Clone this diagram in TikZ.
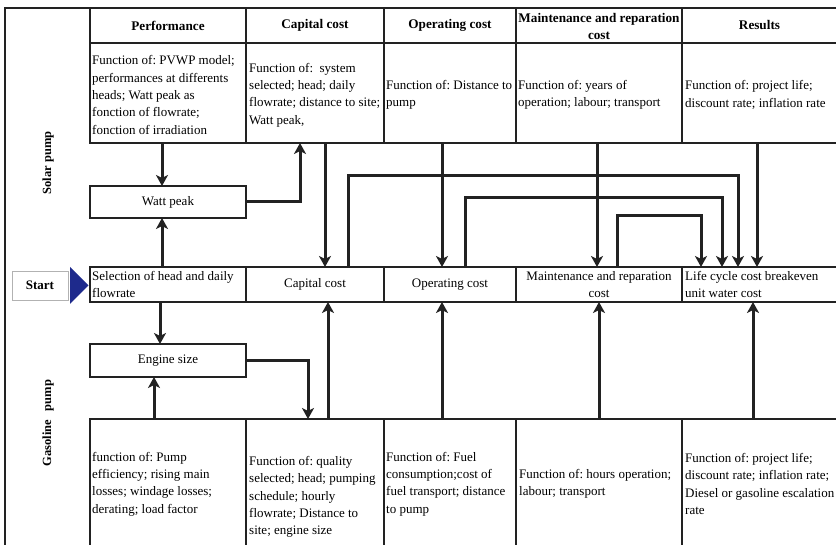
\documentclass[tikz,border=0pt]{standalone}
\usepackage{fontspec}
\setmainfont{Liberation Serif}
\usetikzlibrary{arrows.meta,calc}
\definecolor{ink}{HTML}{222222}
\definecolor{navy}{HTML}{1E2A8C}
\frenchspacing
\newcommand{\mkcell}[5]{\node[cellbox, minimum width={(#4)-(#2)}, minimum height={(#5)-(#3)}] (#1) at ({((#2)+(#4))/2},{((#3)+(#5))/2}) {};}
\tikzset{
  cellbox/.style={draw=ink, line width=2.3pt, rectangle, inner sep=0pt, outer sep=0pt},
  txt/.style={font=\fontsize{13}{17.3}\selectfont, align=left, inner sep=0pt, text=black},
  ctxt/.style={font=\fontsize{13}{17}\selectfont, align=center, inner sep=0pt, text=black},
  hdr/.style={font=\bfseries\fontsize{13.2}{16.5}\selectfont, align=center, inner sep=0pt, text=black},
  arr/.style={draw=ink, line width=3pt, -{Stealth[length=11pt,width=12pt,inset=3pt]}},
  startbox/.style={draw=gray!60, line width=0.9pt, fill=white, minimum width=56pt, minimum height=29pt, inner sep=0pt, font=\bfseries\fontsize{13}{14}\selectfont},
  sidelbl/.style={rotate=90, font=\bfseries\fontsize{12.5}{14}\selectfont}
}
\begin{document}
\begin{tikzpicture}[x=1pt, y=-1pt]
\useasboundingbox (0,0) rectangle (836,545);
\clip (0,0) rectangle (836,545);
\fill[white] (0,0) rectangle (836,545);
% header row
\mkcell{hPerf}{90}{8}{246}{43}
\mkcell{hCap}{246}{8}{384}{43}
\mkcell{hOp}{384}{8}{516}{43}
\mkcell{hMain}{516}{8}{682}{43}
\mkcell{hRes}{682}{8}{845}{43}
% solar body
\mkcell{sPerf}{90}{43}{246}{143}
\mkcell{sCap}{246}{43}{384}{143}
\mkcell{sOp}{384}{43}{516}{143}
\mkcell{sMain}{516}{43}{682}{143}
\mkcell{sRes}{682}{43}{845}{143}
% watt peak
\mkcell{watt}{90}{186}{246}{218}
% middle row
\mkcell{sel}{90}{267}{246}{302}
\mkcell{mCap}{246}{267}{384}{302}
\mkcell{mOp}{384}{267}{516}{302}
\mkcell{mMain}{516}{267}{682}{302}
\mkcell{mRes}{682}{267}{845}{302}
% engine size
\mkcell{eng}{90}{344}{246}{377}
% gasoline body
\mkcell{gPerf}{90}{419}{246}{560}
\mkcell{gCap}{246}{419}{384}{560}
\mkcell{gOp}{384}{419}{516}{560}
\mkcell{gMain}{516}{419}{682}{560}
\mkcell{gRes}{682}{419}{845}{560}
% outer frame
\draw[draw=ink, line width=2.3pt] (5,560) -- (5,8) -- (hPerf.north west);

% header texts
\node[hdr] (thPerf) at (hPerf.center) {Performance};
\node[hdr] (thCap) at (hCap.center) {Capital cost};
\node[hdr] (thOp) at (hOp.center) {Operating cost};
\node[hdr] (thMain) at ($(hMain.center)+(0,1)$) {Maintenance and reparation\\cost};
\node[hdr] (thRes) at ($(hRes.center)+(-4,0)$) {Results};

% solar body texts
\node[txt, anchor=west] (tsPerf) at ($(sPerf.west)+(2,2)$) {Function of: PVWP model;\\performances at differents\\heads; Watt peak as\\fonction of flowrate;\\fonction of irradiation};
\node[txt, anchor=west] (tsCap) at ($(sCap.west)+(3,2)$) {Function of:~~system\\selected; head; daily\\flowrate; distance to site;\\Watt peak,};
\node[txt, anchor=west] (tsOp) at ($(sOp.west)+(2,2)$) {Function of: Distance to\\pump};
\node[txt, anchor=west] (tsMain) at ($(sMain.west)+(2,2)$) {Function of: years of\\operation; labour; transport};
\node[txt, anchor=west] (tsRes) at ($(sRes.west)+(3,2)$) {Function of: project life;\\discount rate; inflation rate};

\node[ctxt] (twatt) at (watt.center) {Watt peak};
\node[ctxt] (teng) at (eng.center) {Engine size};

% middle texts
\node[txt, anchor=west] (tsel) at ($(sel.west)+(2,0)$) {Selection of head and daily\\flowrate};
\node[ctxt] (tmCap) at (mCap.center) {Capital cost};
\node[ctxt] (tmOp) at (mOp.center) {Operating cost};
\node[ctxt] (tmMain) at (mMain.center) {Maintenance and reparation\\cost};
\node[txt, anchor=west] (tmRes) at ($(mRes.west)+(3,0)$) {Life cycle cost breakeven\\unit water cost};

% gasoline texts
\node[txt, anchor=west] (tgPerf) at ($(gPerf.west)+(2,-5.5)$) {function of: Pump\\efficiency; rising main\\losses; windage losses;\\derating; load factor};
\node[txt, anchor=west] (tgCap) at ($(gCap.west)+(3,7.5)$) {Function of: quality\\selected; head; pumping\\schedule; hourly\\flowrate; Distance to\\site; engine size};
\node[txt, anchor=west] (tgOp) at ($(gOp.west)+(2,-5.5)$) {Function of: Fuel\\consumption;cost of\\fuel transport; distance\\to pump};
\node[txt, anchor=west] (tgMain) at ($(gMain.west)+(3,-5.5)$) {Function of: hours operation;\\labour; transport};
\node[txt, anchor=west] (tgRes) at ($(gRes.west)+(3,-5.5)$) {Function of: project life;\\discount rate; inflation rate;\\Diesel or gasoline escalation\\rate};

% side labels and start
\node[sidelbl] (solar) at (48,163) {Solar pump};
\node[sidelbl] (gas) at (48,423) {Gasoline\hspace{0.7em}pump};
\node[startbox] (start) at (40,285.5) {Start};
\fill[navy] (70,267) -- (88.5,285.5) -- (70,304) -- cycle;

% solar arrows
\draw[arr] ([xshift=-6pt]sPerf.south) -- ([xshift=-6pt]watt.north);
\draw[arr] ([xshift=-6pt]sel.north) -- ([xshift=-6pt]watt.south);
\draw[arr] (watt.east) -| ([xshift=-15pt]sCap.south);
\draw[arr] ([xshift=10pt]sCap.south) -- ([xshift=10pt]mCap.north);
\draw[arr] ([xshift=33pt]mCap.north) -- ++(0,-91) -| ([xshift=-25.5pt]mRes.north);
\draw[arr] ([xshift=-8pt]sOp.south) -- ([xshift=-8pt]mOp.north);
\draw[arr] ([xshift=15pt]mOp.north) -- ++(0,-69) -| ([xshift=-41.5pt]mRes.north);
\draw[arr] ([xshift=-2pt]sMain.south) -- ([xshift=-2pt]mMain.north);
\draw[arr] ([xshift=18pt]mMain.north) -- ++(0,-51) -| ([xshift=-62.5pt]mRes.north);
\draw[arr] ([xshift=-6.5pt]sRes.south) -- ([xshift=-6.5pt]mRes.north);

% gasoline arrows
\draw[arr] ([xshift=-8pt]sel.south) -- ([xshift=-8pt]eng.north);
\draw[arr] ([xshift=-14pt]gPerf.north) -- ([xshift=-14pt]eng.south);
\draw[arr] (eng.east) -| ([xshift=-7pt]gCap.north);
\draw[arr] ([xshift=13pt]gCap.north) -- ([xshift=13pt]mCap.south);
\draw[arr] ([xshift=-8pt]gOp.north) -- ([xshift=-8pt]mOp.south);
\draw[arr] (gMain.north) -- (mMain.south);
\draw[arr] ([xshift=-10.5pt]gRes.north) -- ([xshift=-10.5pt]mRes.south);
\end{tikzpicture}
\end{document}
